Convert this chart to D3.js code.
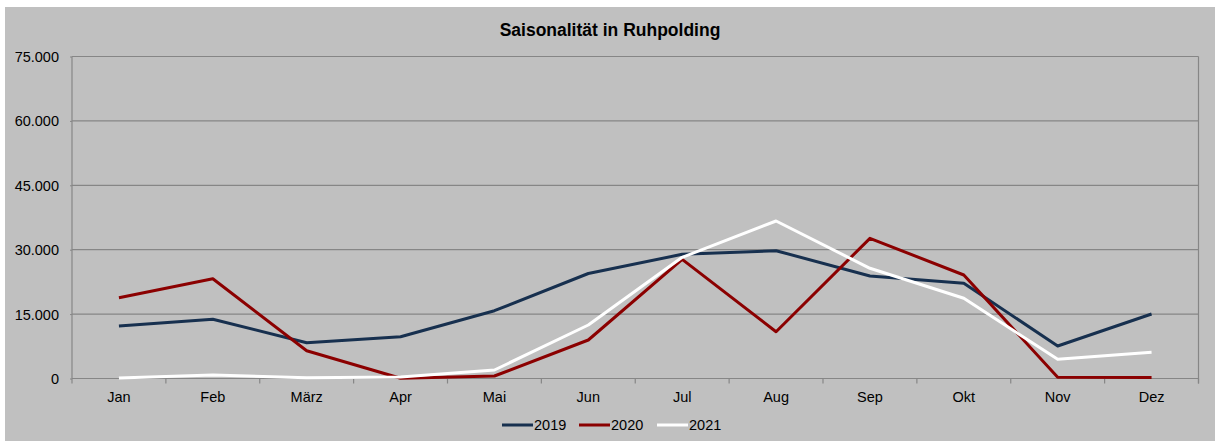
<!DOCTYPE html>
<html><head><meta charset="utf-8">
<script src="https://cdn.jsdelivr.net/npm/d3@7"></script>
<style>body{margin:0;background:#fff}svg{display:block}text{font-family:"Liberation Sans",Arial,sans-serif}</style>
</head><body><svg id="c" width="1221" height="443"></svg>
<script>
const title = "Saisonalität in Ruhpolding";
const months = ["Jan","Feb","März","Apr","Mai","Jun","Jul","Aug","Sep","Okt","Nov","Dez"];
const seriesNames = ["2019","2020","2021"];
const values2019 = [12230,13790,8340,9740,15790,24460,28930,29770,23870,22170,7570,15020];
const values2020 = [18820,23240,6470,70,580,8970,27760,10900,32650,24110,280,230];
const values2021 = [100,800,200,350,1980,12460,28230,36680,25670,18680,4470,6100];
const yTicks = [0,15000,30000,45000,60000,75000];
const colors = ["#17304f","#8b0000","#ffffff"];

const svg = d3.select("#c");
svg.append("rect").attr("x",5).attr("y",7).attr("width",1210).attr("height",434).attr("fill","#c0c0c0");
const L=72, R=1198.5, T=56.5, B=378.5;
const x = d3.scaleBand().domain(months).range([L,R]);
const y = d3.scaleLinear().domain([0,75000]).range([B,T]);
const fmt = v => d3.format(",")(v).replace(/,/g,".");

// gridlines
svg.append("g").selectAll("line").data(yTicks).join("line")
  .attr("x1",L).attr("x2",R).attr("y1",d=>y(d)).attr("y2",d=>y(d))
  .attr("stroke","#868686").attr("stroke-width",1.2);
// plot border left/right
svg.append("line").attr("x1",L).attr("x2",L).attr("y1",T).attr("y2",B).attr("stroke","#868686").attr("stroke-width",1.2);
svg.append("line").attr("x1",R).attr("x2",R).attr("y1",T).attr("y2",B+5).attr("stroke","#868686").attr("stroke-width",1.2);

// y axis
const ya = svg.append("g").attr("transform",`translate(${L},0)`)
  .call(d3.axisLeft(y).tickValues(yTicks).tickFormat(fmt).tickSize(2).tickPadding(11));
ya.select(".domain").remove();
ya.selectAll("line").attr("stroke","#868686");
ya.selectAll("text").attr("font-size",14.5).attr("fill","#000").attr("dy","0.35em")
  .attr("font-family","Liberation Sans, Arial, sans-serif");

// x axis ticks at band boundaries
const bounds = months.map(m=>x(m)).concat([R]);
svg.append("g").selectAll("line").data(bounds).join("line")
  .attr("x1",d=>d).attr("x2",d=>d).attr("y1",B).attr("y2",B+5).attr("stroke","#868686").attr("stroke-width",1.2);
svg.append("g").selectAll("text").data(months).join("text")
  .attr("x",d=>x(d)+x.bandwidth()/2).attr("y",402).attr("text-anchor","middle")
  .attr("font-size",14.5).attr("fill","#000").text(d=>d);

// lines
const all = [values2019, values2020, values2021];
const line = d3.line().x((d,i)=>x(months[i])+x.bandwidth()/2).y(d=>y(d));
all.forEach((vals,k)=>{
  svg.append("path").datum(vals).attr("d",line).attr("fill","none")
    .attr("stroke",colors[k]).attr("stroke-width",3).attr("stroke-linejoin","round");
});

// title
svg.append("text").attr("x",610).attr("y",35.5).attr("text-anchor","middle")
  .attr("font-size",17.5).attr("font-weight","bold").attr("fill","#000").text(title);

// legend
const legX = [502,579,657];
seriesNames.forEach((n,k)=>{
  svg.append("line").attr("x1",legX[k]).attr("x2",legX[k]+31).attr("y1",425).attr("y2",425)
    .attr("stroke",colors[k]).attr("stroke-width",3);
  svg.append("text").attr("x",legX[k]+32).attr("y",430).attr("font-size",14.5).attr("fill","#000").text(n);
});
</script></body></html>
